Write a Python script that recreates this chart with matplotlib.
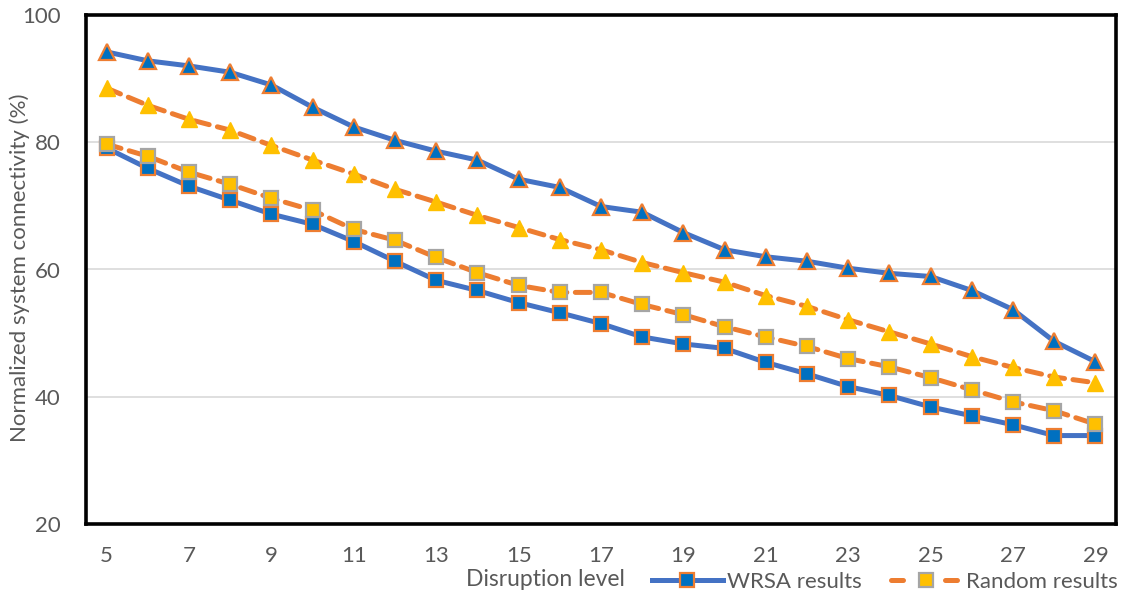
import matplotlib
matplotlib.use("Agg")
import matplotlib.pyplot as plt
from matplotlib.lines import Line2D

plt.rcParams['font.family'] = ['Lato', 'DejaVu Sans']

levels = list(range(5, 30))

wrsa_tri = [94.2, 92.8, 92.0, 91.0, 89.0, 85.5, 82.4, 80.3, 78.6, 77.2, 74.2, 72.9,
            69.9, 69.0, 65.8, 63.1, 62.0, 61.3, 60.2, 59.4, 58.9, 56.7, 53.7, 48.7, 45.5]
random_tri = [88.5, 85.8, 83.6, 81.9, 79.5, 77.2, 75.0, 72.6, 70.6, 68.5, 66.6, 64.7,
              63.1, 61.1, 59.5, 58.0, 55.9, 54.2, 52.1, 50.2, 48.3, 46.3, 44.6, 43.1, 42.2]
wrsa_sq = [79.1, 75.9, 73.1, 70.9, 68.7, 67.1, 64.4, 61.3, 58.3, 56.7, 54.8, 53.2,
           51.5, 49.4, 48.3, 47.6, 45.4, 43.6, 41.6, 40.2, 38.4, 37.0, 35.6, 33.9, 33.9]
random_sq = [79.7, 77.8, 75.3, 73.4, 71.2, 69.3, 66.3, 64.6, 61.9, 59.5, 57.5, 56.4,
             56.4, 54.5, 52.9, 51.0, 49.4, 47.9, 46.0, 44.7, 43.0, 41.1, 39.2, 37.8, 35.7]

x_ticks = list(range(5, 30, 2))
y_ticks = [20, 40, 60, 80, 100]

BLUE_LINE = '#4472C4'
BLUE_FILL = '#0070C0'
ORANGE = '#ED7D31'
YELLOW = '#FFC000'
GRAY = '#A5A5A5'
TEXT = '#595959'

fig = plt.figure(figsize=(11.26, 6.05), dpi=100)
ax = fig.add_axes([86/1126, 1 - 524/605, 1030/1126, 509/605])

lw = 3.6
dash = (3.0, 1.7)

# WRSA curves: solid blue line
ax.plot(levels, wrsa_tri, color=BLUE_LINE, lw=lw, marker='^', ms=11,
        mfc=BLUE_FILL, mec=ORANGE, mew=1.6, solid_joinstyle='round', zorder=3)
ax.plot(levels, wrsa_sq, color=BLUE_LINE, lw=lw, marker='s', ms=9.5,
        mfc=BLUE_FILL, mec=ORANGE, mew=1.6, solid_joinstyle='round', zorder=3)

# Random curves: dashed orange line
ax.plot(levels, random_tri, color=ORANGE, lw=lw, ls=(0, dash), dash_capstyle='round',
        marker='^', ms=11, mfc=YELLOW, mec=YELLOW, mew=1.0, zorder=3)
ax.plot(levels, random_sq, color=ORANGE, lw=lw, ls=(0, dash), dash_capstyle='round',
        marker='s', ms=9.5, mfc=YELLOW, mec=GRAY, mew=1.6, zorder=3)

ax.set_xlim(4.5, 29.5)
ax.set_ylim(20, 100)
ax.set_xticks(x_ticks)
ax.set_yticks(y_ticks)
ax.tick_params(axis='both', length=0, labelsize=16, colors=TEXT, labelcolor=TEXT)
ax.tick_params(axis='x', pad=16)
ax.tick_params(axis='y', pad=18)
ax.grid(axis='y', color='#D9D9D9', lw=1.2, zorder=0)
ax.set_axisbelow(True)
for s in ax.spines.values():
    s.set_color('black')
    s.set_linewidth(2.6)

fig.text(20/1126, 1 - 268/605, 'Normalized system connectivity (%)', fontsize=16,
         color=TEXT, rotation=90, ha='center', va='center')
fig.text(545/1126, 1 - 579/605, 'Disruption level', fontsize=16.5, color=TEXT,
         ha='center', va='center')

handles = [
    Line2D([], [], color=BLUE_LINE, lw=lw, marker='s', ms=9.5, mfc=BLUE_FILL,
           mec=ORANGE, mew=1.6),
    Line2D([], [], color=ORANGE, lw=lw, ls=(0, (2.4, 8.4)), dash_capstyle='round',
           marker='s', ms=9.5, mfc=YELLOW, mec=GRAY, mew=1.6),
]
leg = fig.legend(handles, ['WRSA results', 'Random results'], loc='center',
                 bbox_to_anchor=(885/1126, 1 - 582/605), ncol=2, frameon=False,
                 fontsize=16, labelcolor=TEXT, handlelength=3.2, columnspacing=1.3,
                 handletextpad=0.2)

fig.savefig('out.png', dpi=100)
